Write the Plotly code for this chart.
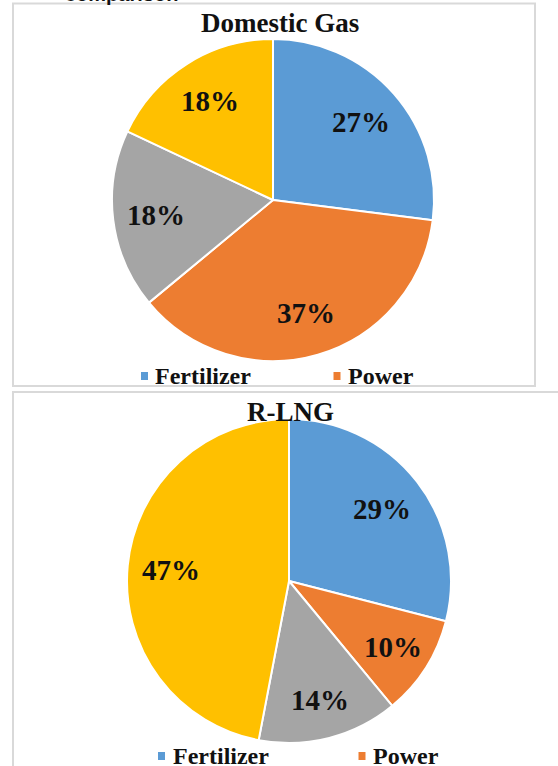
import numpy as np
import plotly.graph_objects as go

W, H = 558, 766

# ---- data ----
categories = ["Fertilizer", "Power", "Industrial", "Others"]
domestic_gas = [27, 37, 18, 18]
rlng = [29, 10, 14, 47]
colors = ["#5B9BD5", "#ED7D31", "#A5A5A5", "#FFC000"]
chart_titles = ["Domestic Gas", "R-LNG"]
legend_items = ["Fertilizer", "Power"]

SERIF = "Liberation Serif"

# pie placement in pixels (x0, x1, ytop, ybottom)
pies = [
    dict(vals=domestic_gas, box=(112, 434, 39, 361), title=chart_titles[0], title_xy=(280, 23)),
    dict(vals=rlng, box=(127, 451, 419, 743), title=chart_titles[1], title_xy=(290, 412)),
]

def px(x):
    return x / W

def py(y):
    return 1 - y / H

fig = go.Figure()
annotations = []
shapes = []

for p in pies:
    x0, x1, yt, yb = p["box"]
    fig.add_trace(go.Pie(
        labels=categories,
        values=p["vals"],
        sort=False,
        direction="clockwise",
        rotation=0,
        marker=dict(colors=colors, line=dict(color="white", width=2)),
        textinfo="none",
        hoverinfo="label+percent",
        showlegend=False,
        domain=dict(x=[px(x0), px(x1)], y=[py(yb), py(yt)]),
    ))
    # data labels computed from values
    cx, cy = (x0 + x1) / 2, (yt + yb) / 2
    r = (x1 - x0) / 2
    vals = np.array(p["vals"], dtype=float)
    frac = vals / vals.sum()
    mids = (np.cumsum(frac) - frac / 2) * 2 * np.pi
    for v, f, a in zip(p["vals"], frac, mids):
        rr = (0.73 if f >= 0.15 else 0.76) * r
        lx = cx + rr * np.sin(a)
        ly = cy - rr * np.cos(a)
        annotations.append(dict(
            x=px(lx), y=py(ly), xref="paper", yref="paper",
            text=f"<b>{v}%</b>", showarrow=False,
            xanchor="center", yanchor="middle",
            font=dict(family=SERIF, size=29, color="#111111"),
        ))
    tx, ty = p["title_xy"]
    annotations.append(dict(
        x=px(tx), y=py(ty), xref="paper", yref="paper",
        text=f"<b>{p['title']}</b>", showarrow=False,
        xanchor="center", yanchor="middle",
        font=dict(family=SERIF, size=27, color="#111111"),
    ))

# legends (only the first two entries are visible in the crop)
legend_rows = [
    dict(sq=[144.5, 337], txt=[155, 348], y=376),
    dict(sq=[161.5, 362], txt=[173, 373], y=756),
]
for row in legend_rows:
    for i, name in enumerate(legend_items):
        sx = row["sq"][i]
        shapes.append(dict(type="rect", xref="paper", yref="paper",
                           x0=px(sx - 3.5), x1=px(sx + 3.5),
                           y0=py(row["y"] + 4), y1=py(row["y"] - 4),
                           fillcolor=colors[i], line=dict(width=0)))
        annotations.append(dict(
            x=px(row["txt"][i] - 2), y=py(row["y"]), xref="paper", yref="paper",
            text=f"<b>{name}</b>", showarrow=False,
            xanchor="left", yanchor="middle",
            font=dict(family=SERIF, size=24, color="#111111"),
        ))

# cut-off heading text at the very top
annotations.append(dict(
    x=px(63), y=py(-6), xref="paper", yref="paper",
    text="<b>comparison</b>", showarrow=False,
    xanchor="left", yanchor="middle",
    font=dict(family="Liberation Sans", size=20, color="#111111"),
))

# chart area borders
shapes.append(dict(type="rect", xref="paper", yref="paper",
                   x0=px(13), x1=px(535), y0=py(386), y1=py(3.5),
                   line=dict(color="#D9D9D9", width=2), fillcolor="rgba(0,0,0,0)"))
shapes.append(dict(type="rect", xref="paper", yref="paper",
                   x0=px(13), x1=px(575), y0=py(790), y1=py(392),
                   line=dict(color="#D9D9D9", width=2), fillcolor="rgba(0,0,0,0)"))

fig.update_layout(
    width=W, height=H,
    margin=dict(l=0, r=0, t=0, b=0),
    paper_bgcolor="white",
    plot_bgcolor="white",
    annotations=annotations,
    shapes=shapes,
    showlegend=False,
)

fig.write_html(
    "out.html",
    config={"displayModeBar": False},
    post_script="document.body.style.margin='0';document.body.style.overflow='hidden';",
)
